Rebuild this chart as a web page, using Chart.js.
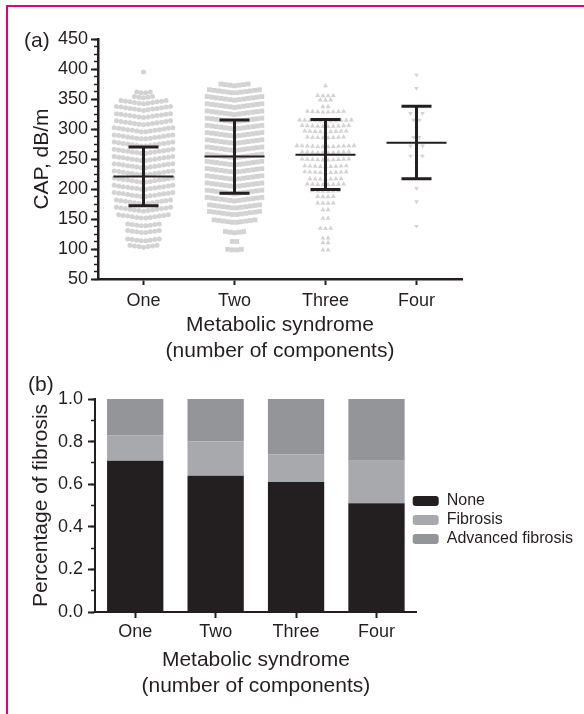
<!DOCTYPE html>
<html>
<head>
<meta charset="utf-8">
<script src="https://cdn.jsdelivr.net/npm/chart.js@4.4.1/dist/chart.umd.min.js"></script>
<style>
html,body{margin:0;padding:0;background:#fff;}
#page{position:relative;width:584px;height:714px;overflow:hidden;background:#fff;font-family:"Liberation Sans",Arial,Helvetica,sans-serif;}
#frame{position:absolute;left:6px;top:5px;width:640px;height:760px;border-left:2px solid #e2007a;border-top:2px solid #e2007a;}
canvas{position:absolute;left:0;}
#ca{top:0;}
#cb{top:360px;}
.plabel{position:absolute;font-size:21px;line-height:21px;color:#231f20;white-space:nowrap;}
</style>
</head>
<body>
<div id="page">
  <div id="frame"></div>
  <canvas id="ca" width="584" height="370"></canvas>
  <canvas id="cb" width="584" height="354"></canvas>
  <div class="plabel" style="left:24px;top:29px;">(a)</div>
  <div class="plabel" style="left:28px;top:373px;">(b)</div>
</div>
<script>
// ---------------- data ----------------
const categories = ['One', 'Two', 'Three', 'Four'];

// Panel (a): CAP (dB/m), mean and +/- SD per group
const capMeans = [221, 254, 257, 277];
const capUpper = [270, 315, 316, 338];
const capLower = [172, 193, 199, 217];

// Panel (a): individual values, read as rows (value level, number of points in that row)
const oneLevels = [395, 360, 352, 342, 331, 319, 307, 295, 283, 271, 259, 247, 235, 223, 211, 199, 187, 175, 163, 151, 138, 127, 113, 103];
const oneCounts = [1, 4, 5, 11, 13, 13, 13, 14, 14, 14, 14, 14, 14, 14, 14, 14, 14, 13, 13, 12, 8, 8, 8, 7];

const twoLevels = [372, 360, 348, 336, 324, 312, 300, 288, 276, 264, 252, 240, 228, 216, 204, 192, 180, 168, 157, 144, 127, 112, 98];
const twoCounts = [7, 12, 13, 13, 13, 13, 13, 13, 13, 13, 13, 13, 13, 13, 13, 13, 13, 12, 12, 10, 5, 2, 4];

const threeLevels = [372, 355, 348, 337, 328, 313, 304, 295, 285, 270, 260, 248, 237, 227, 216, 207, 196, 187, 176, 165, 151, 134, 118, 110, 98];
const threeCounts = [1, 4, 3, 2, 8, 11, 10, 9, 8, 12, 10, 10, 9, 9, 7, 8, 6, 4, 4, 2, 2, 3, 2, 2, 2];

const fourLevels = [390, 368, 326, 315, 301, 286, 272, 255, 243, 201, 179, 138];
const fourCounts = [1, 1, 3, 2, 1, 2, 3, 3, 1, 1, 1, 1];

// Panel (b): proportion of fibrosis stage per group
const fibNone     = [0.71, 0.64, 0.61, 0.51];
const fibFibrosis = [0.12, 0.16, 0.13, 0.20];
const fibAdvanced = [0.17, 0.20, 0.26, 0.29];

// ---------------- styling ----------------
const INK = '#231f20';
const FONT = '"Liberation Sans", Arial, Helvetica, sans-serif';
Chart.defaults.font.family = FONT;
Chart.defaults.color = INK;

const PT = '#d3d3d3';
const swarmStyle = [
  {levels: oneLevels,   counts: oneCounts,   style: 'circle',   r: 2.5, dx: 0.0495, k: 1.1, rot: 0},
  {levels: twoLevels,   counts: twoCounts,   style: 'rect',     r: 3.4, dx: 0.050,  k: 1.0, rot: 0},
  {levels: threeLevels, counts: threeCounts, style: 'triangle', r: 2.9, dx: 0.057,  k: 0.4, rot: 0},
  {levels: fourLevels,  counts: fourCounts,  style: 'triangle', r: 2.6, dx: 0.066,  k: 0,   rot: 180}
];

// beeswarm layout: spread each row horizontally around the category centre
function swarm(levels, counts, center, dx, k) {
  const pts = [];
  levels.forEach((v, r) => {
    const n = counts[r];
    for (let i = 0; i < n; i++) {
      const o = i - (n - 1) / 2;
      pts.push({x: center + o * dx, y: v + Math.abs(o) * k});
    }
  });
  return pts;
}

const meanLine = [];
const sdLines = [];
categories.forEach((c, i) => {
  const cx = i + 1;
  meanLine.push({x: cx - 0.33, y: capMeans[i]}, {x: cx + 0.33, y: capMeans[i]}, {x: cx, y: null});
  sdLines.push(
    {x: cx - 0.165, y: capUpper[i]}, {x: cx + 0.165, y: capUpper[i]}, {x: cx, y: null},
    {x: cx, y: capUpper[i]}, {x: cx, y: capLower[i]}, {x: cx, y: null},
    {x: cx - 0.165, y: capLower[i]}, {x: cx + 0.165, y: capLower[i]}, {x: cx, y: null}
  );
});

const pointSets = swarmStyle.map((g, i) => ({
  label: categories[i],
  data: swarm(g.levels, g.counts, i + 1, g.dx, g.k),
  xAxisID: 'x', yAxisID: 'y',
  pointStyle: g.style,
  pointRadius: g.r,
  pointRotation: g.rot,
  pointBackgroundColor: PT,
  pointBorderWidth: 0,
  pointBorderColor: PT,
  showLine: false,
  order: 2
}));

new Chart(document.getElementById('ca'), {
  type: 'scatter',
  data: {
    datasets: [
      {label: 'mean', data: meanLine, xAxisID: 'x', yAxisID: 'y', showLine: true, spanGaps: false,
       borderColor: INK, borderWidth: 2, pointRadius: 0, order: 0},
      {label: 'sd', data: sdLines, xAxisID: 'x', yAxisID: 'y', showLine: true, spanGaps: false,
       borderColor: INK, borderWidth: 3, pointRadius: 0, order: 1},
      ...pointSets
    ]
  },
  options: {
    responsive: false, animation: false, events: [],
    layout: {padding: {top: 39, right: 122, left: 0, bottom: 0}},
    plugins: {legend: {display: false}, tooltip: {enabled: false}},
    scales: {
      x: {
        type: 'linear', min: 0.5, max: 4.5,
        afterBuildTicks: s => { s.ticks = categories.map((c, i) => ({value: i + 1})); },
        afterFit: s => { s.height = 91; },
        ticks: {callback: v => categories[Math.round(v) - 1], font: {size: 18}, padding: 5, color: INK, maxRotation: 0, autoSkip: false},
        grid: {drawOnChartArea: false, drawTicks: true, tickLength: 6, tickWidth: 2, tickColor: INK},
        border: {display: true, color: INK, width: 2.5},
        title: {display: true, text: ['Metabolic syndrome', '(number of components)'], color: INK,
                font: {size: 21, lineHeight: '26px'}, padding: {top: 0, bottom: 6}}
      },
      y: {
        type: 'linear', axis: 'y', position: 'left', min: 50, max: 450, weight: 1,
        afterFit: s => { s.width = 98; },
        ticks: {stepSize: 50, font: {size: 18}, padding: 3, color: INK},
        grid: {drawOnChartArea: false, tickLength: 7, tickWidth: 2, tickColor: INK},
        border: {display: true, color: INK, width: 2.5},
        title: {display: true, text: 'CAP, dB/m', color: INK, font: {size: 21}, padding: {top: 30, bottom: 0}}
      },
      yMinor: {
        type: 'linear', axis: 'y', position: 'left', min: 50, max: 450, weight: 0,
        afterFit: s => { s.width = 0; },
        ticks: {stepSize: 12.5, display: false},
        grid: {drawOnChartArea: false, tickLength: 4, tickWidth: 1.5, tickColor: INK},
        border: {display: false}
      }
    }
  }
});

const legendNudge = {
  id: 'legendNudge',
  afterLayout(chart, args, opts) {
    const lg = chart.legend;
    if (!lg) return;
    lg.left += opts.dx; lg.right += opts.dx;
    lg.top += opts.dy; lg.bottom += opts.dy;
  }
};

new Chart(document.getElementById('cb'), {
  type: 'bar',
  plugins: [legendNudge],
  data: {
    labels: categories,
    datasets: [
      {label: 'None', data: fibNone, backgroundColor: '#231f20', yAxisID: 'y', xAxisID: 'x'},
      {label: 'Fibrosis', data: fibFibrosis, backgroundColor: '#a7a9ac', yAxisID: 'y', xAxisID: 'x'},
      {label: 'Advanced fibrosis', data: fibAdvanced, backgroundColor: '#939598', yAxisID: 'y', xAxisID: 'x'}
    ]
  },
  options: {
    responsive: false, animation: false, events: [],
    datasets: {bar: {barPercentage: 0.7, categoryPercentage: 1, borderWidth: 0}},
    layout: {padding: {top: 39, right: -6, left: 0, bottom: 0}},
    plugins: {
      tooltip: {enabled: false},
      legendNudge: {dx: -7, dy: 14.5},
      legend: {
        position: 'right', align: 'center', fullSize: false, maxWidth: 220,
        labels: {boxWidth: 26, boxHeight: 10, padding: 3, font: {size: 16}, color: INK, useBorderRadius: true, borderRadius: 3}
      }
    },
    scales: {
      x: {
        stacked: true,
        afterFit: s => { s.height = 102; },
        ticks: {font: {size: 18}, padding: 3, color: INK, maxRotation: 0},
        grid: {offset: false, drawOnChartArea: false, tickLength: 6, tickWidth: 2, tickColor: INK},
        border: {display: true, color: INK, width: 2},
        title: {display: true, text: ['Metabolic syndrome', '(number of components)'], color: INK,
                font: {size: 21, lineHeight: '26px'}, padding: {top: 0, bottom: 15}}
      },
      y: {
        stacked: true, axis: 'y', position: 'left', min: 0, max: 1, weight: 1,
        afterFit: s => { s.width = 95; },
        ticks: {stepSize: 0.2, callback: v => Number(v).toFixed(1), font: {size: 18}, padding: 5, color: INK},
        grid: {drawOnChartArea: false, tickLength: 7, tickWidth: 2, tickColor: INK},
        border: {display: true, color: INK, width: 2},
        title: {display: true, text: 'Percentage of fibrosis', color: INK, font: {size: 21}, padding: {top: 29, bottom: 0}}
      },
      yMinor: {
        type: 'linear', axis: 'y', position: 'left', min: 0, max: 1, weight: 0,
        afterFit: s => { s.width = 0; },
        ticks: {stepSize: 0.1, display: false},
        grid: {drawOnChartArea: false, tickLength: 4, tickWidth: 1.5, tickColor: INK},
        border: {display: false}
      }
    }
  }
});
</script>
</body>
</html>
